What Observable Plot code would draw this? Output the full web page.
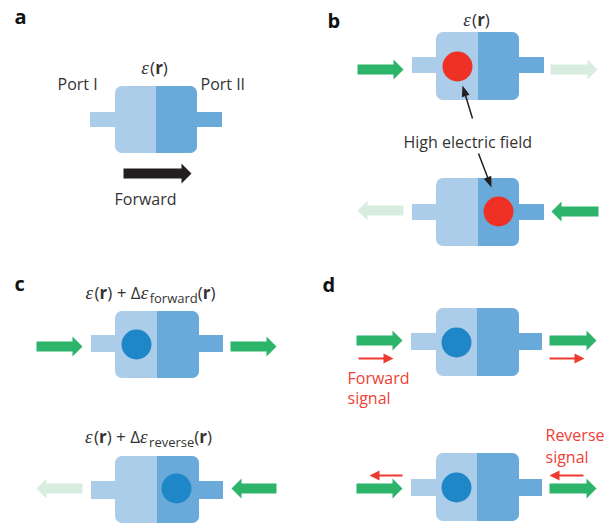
<!DOCTYPE html>
<html><head><meta charset="utf-8">
<script src="https://cdn.jsdelivr.net/npm/d3@7"></script>
<script src="https://cdn.jsdelivr.net/npm/@observablehq/plot@0.6"></script>
<style>body{margin:0;background:#fff} #chart svg{display:block}</style>
</head><body><div id="chart"></div>
<script>
// ---- data ----
const palette = {light:"#abcdea", dark:"#6aaadb", high:"#ee3124", tuned:"#1f86c8",
  green:"#2db46b", pale:"#d6eddf", black:"#231f20", signal:"#ee3a2e", text:"#333333", signalText:"#ef4136"};

// device boxes (left half = light, right half = dark), stubs = waveguide ports
const devices = [
  {id:"a",  x1:115, x2:197, y1:86,  y2:153, split:156, stubL:90,  stubR:222, sy1:112, sy2:127},
  {id:"b1", x1:436, x2:519, y1:32,  y2:100, split:478, stubL:412, stubR:544, sy1:57,  sy2:73},
  {id:"b2", x1:436, x2:519, y1:178, y2:246, split:478, stubL:412, stubR:544, sy1:204, sy2:220},
  {id:"c1", x1:115, x2:199, y1:311, y2:378, split:157, stubL:91,  stubR:223, sy1:335, sy2:352},
  {id:"c2", x1:115, x2:199, y1:456, y2:523, split:157, stubL:91,  stubR:223, sy1:481, sy2:499},
  {id:"d1", x1:436, x2:519, y1:308, y2:376, split:477, stubL:411, stubR:542, sy1:333, sy2:350},
  {id:"d2", x1:436, x2:519, y1:453, y2:521, split:477, stubL:411, stubR:542, sy1:479, sy2:496}
];

// field spots
const fieldSpots = [
  {x:457, y:66,  kind:"high"},
  {x:498, y:211, kind:"high"},
  {x:136, y:344, kind:"tuned"},
  {x:176, y:488, kind:"tuned"},
  {x:456, y:342, kind:"tuned"},
  {x:456, y:487, kind:"tuned"}
];

// thick arrows: from -> to along a horizontal line
const thickArrows = [
  {from:123, to:191, y:173, kind:"black"},
  {from:357, to:403, y:69,  kind:"green"},
  {from:550, to:597, y:69,  kind:"pale"},
  {from:403, to:357, y:210, kind:"pale"},
  {from:598, to:551, y:211, kind:"green"},
  {from:36,  to:82,  y:346, kind:"green"},
  {from:230, to:276, y:346, kind:"green"},
  {from:82,  to:36,  y:488, kind:"pale"},
  {from:276, to:231, y:488, kind:"green"},
  {from:356, to:402, y:340, kind:"green"},
  {from:549, to:596, y:340, kind:"green"},
  {from:356, to:402, y:488, kind:"green"},
  {from:549, to:596, y:488, kind:"green"}
];

// thin red signal arrows
const signalArrows = [
  {from:358, to:393, y:358},
  {from:549, to:584, y:358},
  {from:402, to:369, y:475},
  {from:583, to:549, y:475}
];

// black pointer arrows (tail -> tip)
const pointerArrows = [
  {x1:472, y1:118, x2:462, y2:85},
  {x1:478, y1:153, x2:491, y2:187}
];

// plain labels (x = start, y = baseline)
const plainLabels = [
  {text:"Port I", x:57, y:89, kind:"text"},
  {text:"Port II", x:200, y:89, kind:"text"},
  {text:"Forward", x:114, y:204, kind:"text"},
  {text:"High electric field", x:403, y:147, kind:"text"},
  {text:"Forward", x:347, y:383, kind:"signalText"},
  {text:"signal", x:347, y:403, kind:"signalText"},
  {text:"Reverse", x:545, y:440, kind:"signalText"},
  {text:"signal", x:545, y:462, kind:"signalText"}
];

const panelLetters = [
  {text:"a", x:14, y:23},
  {text:"b", x:327, y:27},
  {text:"c", x:14, y:290},
  {text:"d", x:322, y:291}
];

// permittivity labels: centre x, baseline y, suffix (subscript)
const permLabels = [
  {cx:154, y:73,  sub:null},
  {cx:476, y:25,  sub:null},
  {cx:150, y:298, sub:"forward"},
  {cx:148, y:442, sub:"reverse"}
];

// ---- build ----
const ctx = document.createElement("canvas").getContext("2d");
function measure(p) {
  ctx.font = `${p.style} ${p.weight} ${p.size}px "${p.family}"`;
  return ctx.measureText(p.t).width;
}
function epsParts(sub) {
  const S = "Open Sans", M = "Liberation Serif";
  const base = [
    {t:"ε", style:"italic", weight:400, size:19, dy:0, family:M},
    {t:"(", style:"normal", weight:400, size:17, dy:0, family:S},
    {t:"r", style:"normal", weight:700, size:17, dy:0, family:S},
    {t:")", style:"normal", weight:400, size:17, dy:0, family:S}
  ];
  if (!sub) return base;
  return base.concat([
    {t:" + Δ", style:"normal", weight:400, size:17, dy:0, family:S},
    {t:"ε", style:"italic", weight:400, size:19, dy:0, family:M},
    {t:sub, style:"normal", weight:400, size:13, dy:4, family:S},
    {t:"(", style:"normal", weight:400, size:17, dy:0, family:S},
    {t:"r", style:"normal", weight:700, size:17, dy:0, family:S},
    {t:")", style:"normal", weight:400, size:17, dy:0, family:S}
  ]);
}
const permPieces = [];
permLabels.forEach(l => {
  const parts = epsParts(l.sub);
  const widths = parts.map(p => measure(p) + (p.style === "italic" ? 1.5 : 0));
  let x = l.cx - d3.sum(widths) / 2;
  parts.forEach((p, i) => { permPieces.push({...p, x, y: l.y + p.dy}); x += widths[i]; });
});

function arrowPolygon(x1, y1, x2, y2, sw, hw, hl) {
  const dx = x2 - x1, dy = y2 - y1, L = Math.hypot(dx, dy), ux = dx / L, uy = dy / L, nx = -uy, ny = ux;
  const bx = x2 - ux * hl, by = y2 - uy * hl;
  return [[x1 + nx*sw, y1 + ny*sw], [bx + nx*sw, by + ny*sw], [bx + nx*hw, by + ny*hw], [x2, y2],
          [bx - nx*hw, by - ny*hw], [bx - nx*sw, by - ny*sw], [x1 - nx*sw, y1 - ny*sw]];
}
const polyRows = [];
let pid = 0;
function addPoly(pts, color) { const id = pid++; pts.forEach(([x, y]) => polyRows.push({id, x, y, color})); }
thickArrows.forEach(a => addPoly(arrowPolygon(a.from, a.y, a.to, a.y, 5, 10, 10), palette[a.kind]));
signalArrows.forEach(a => addPoly(arrowPolygon(a.from, a.y, a.to, a.y, 0.9, 5, 10), palette.signal));
pointerArrows.forEach(a => addPoly(arrowPolygon(a.x1, a.y1, a.x2, a.y2, 0.75, 4, 11), palette.black));

const R = 7;
const stubs = devices.flatMap(d => [
  {x1:d.stubL, x2:d.x1 + 2, y1:d.sy1, y2:d.sy2, color:palette.light},
  {x1:d.x2 - 2, x2:d.stubR, y1:d.sy1, y2:d.sy2, color:palette.dark}
]);

const marks = [
  Plot.rect(stubs, {x1:"x1", x2:"x2", y1:"y1", y2:"y2", fill:"color"}),
  Plot.rect(devices, {x1:"x1", x2:"x2", y1:"y1", y2:"y2", fill:palette.light, rx:R, ry:R}),
  Plot.rect(devices, {x1:"split", x2:"x2", y1:"y1", y2:"y2", fill:palette.dark, rx:R, ry:R}),
  Plot.rect(devices, {x1:"split", x2:d => d.split + R + 1, y1:"y1", y2:"y2", fill:palette.dark}),
  Plot.dot(fieldSpots, {x:"x", y:"y", r:15, fill:d => palette[d.kind], stroke:"none"}),
  Plot.line(polyRows, {x:"x", y:"y", z:"id", fill:"color", stroke:"none", curve:"linear-closed"}),
  Plot.text(plainLabels, {x:"x", y:"y", text:"text", fill:d => palette[d.kind], textAnchor:"start",
    lineAnchor:"bottom", fontSize:16, fontFamily:"Open Sans"}),
  Plot.text(panelLetters, {x:"x", y:"y", text:"text", fill:"#111", textAnchor:"start",
    lineAnchor:"bottom", fontSize:20, fontWeight:700, fontFamily:"Open Sans"}),
  ...permPieces.map(p => Plot.text([p], {x:"x", y:"y", text:"t", fill:palette.text, textAnchor:"start",
    lineAnchor:"bottom", fontSize:p.size, fontWeight:p.weight, fontStyle:p.style, fontFamily:p.family}))
];

const chart = Plot.plot({
  width:612, height:524, margin:0,
  x:{domain:[0,612], range:[0,612], axis:null},
  y:{domain:[0,524], range:[0,524], axis:null},
  color:{type:"identity"},
  style:{background:"#fff"},
  marks
});
document.getElementById("chart").appendChild(chart);
</script></body></html>
